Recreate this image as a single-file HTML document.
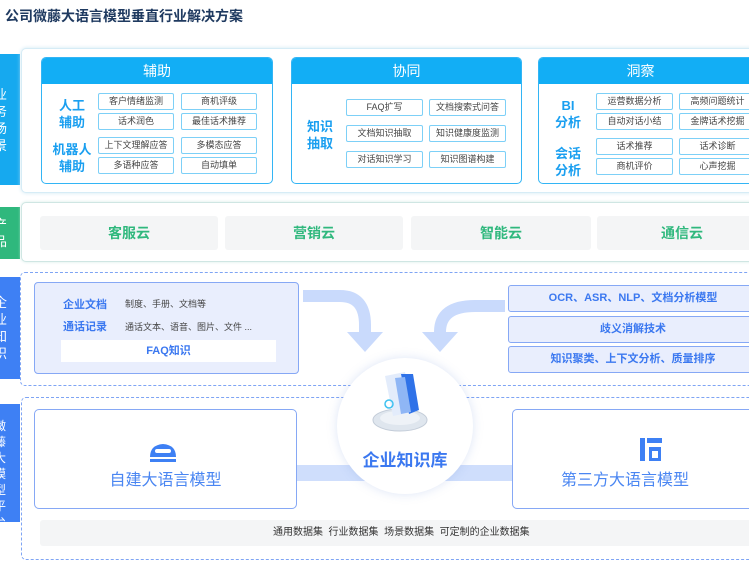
<!DOCTYPE html>
<html><head><meta charset="utf-8"><style>
*{margin:0;padding:0;box-sizing:border-box}
body{width:749px;height:584px;overflow:hidden;background:#fff;position:relative;font-family:"Liberation Sans","Noto Sans CJK SC",sans-serif}
.a{position:absolute}
.tab{position:absolute;left:0;width:20px;color:#fff;font-size:13px;line-height:17px;text-align:left;padding-left:0;overflow:hidden;display:flex;flex-direction:column;justify-content:center}
.tab span{display:block;margin-left:-6px}
.card{position:absolute;background:#fff;border-radius:5px}
.pan{position:absolute;border:1.5px solid #33b5f5;border-radius:5px;background:#fff;overflow:hidden}
.ph{height:26px;background:#12aef5;color:#fff;font-size:14px;text-align:center;line-height:26px}
.b{position:absolute;border:1.5px solid #7dd0f7;border-radius:2px;font-size:9px;color:#444;text-align:center;line-height:14px;height:17px;background:#fff}
.lb{position:absolute;color:#1a9ff0;font-weight:bold;font-size:13px;line-height:17px;text-align:center}
.prod{position:absolute;top:216px;height:34px;background:#f4f5f6;border-radius:3px;color:#2fb87d;font-weight:bold;font-size:14px;text-align:center;line-height:34px}
.rb{position:absolute;left:508px;width:250px;height:27px;background:#e9eefd;border:1.5px solid #86a8f5;border-radius:3px;color:#3b78f0;font-weight:bold;font-size:11px;text-align:center;line-height:24px}
</style></head><body>
<div class="a" style="left:5px;top:6px;font-size:14px;font-weight:bold;color:#1f3a60">公司微藤大语言模型垂直行业解决方案</div>

<!-- section 1 -->
<div class="tab" style="top:54px;height:131px;background:#16a9ef"><span>业</span><span>务</span><span>场</span><span>景</span></div>
<div class="card" style="left:21px;top:48px;width:740px;height:145px;border:1px solid #d6ecf6;box-shadow:0 0 4px #d0e8f3"></div>
<div class="pan" style="left:41px;top:57px;width:232px;height:127px"><div class="ph">辅助</div></div>
<div class="lb" style="left:56px;top:97px;width:32px">人工<br>辅助</div>
<div class="lb" style="left:50px;top:141px;width:44px">机器人<br>辅助</div>
<div class="b" style="left:98px;top:93px;width:76px">客户情绪监测</div>
<div class="b" style="left:181px;top:93px;width:76px">商机评级</div>
<div class="b" style="left:98px;top:113px;width:76px">话术润色</div>
<div class="b" style="left:181px;top:113px;width:76px">最佳话术推荐</div>
<div class="b" style="left:98px;top:137px;width:76px">上下文理解应答</div>
<div class="b" style="left:181px;top:137px;width:76px">多模态应答</div>
<div class="b" style="left:98px;top:157px;width:76px">多语种应答</div>
<div class="b" style="left:181px;top:157px;width:76px">自动填单</div>

<div class="pan" style="left:291px;top:57px;width:231px;height:127px"><div class="ph">协同</div></div>
<div class="lb" style="left:303px;top:118px;width:34px">知识<br>抽取</div>
<div class="b" style="left:346px;top:99px;width:77px">FAQ扩写</div>
<div class="b" style="left:429px;top:99px;width:77px">文档搜索式问答</div>
<div class="b" style="left:346px;top:125px;width:77px">文档知识抽取</div>
<div class="b" style="left:429px;top:125px;width:77px">知识健康度监测</div>
<div class="b" style="left:346px;top:151px;width:77px">对话知识学习</div>
<div class="b" style="left:429px;top:151px;width:77px">知识图谱构建</div>

<div class="pan" style="left:538px;top:57px;width:230px;height:127px"><div class="ph" style="padding-right:25px">洞察</div></div>
<div class="lb" style="left:551px;top:97px;width:34px">BI<br>分析</div>
<div class="lb" style="left:551px;top:145px;width:34px">会话<br>分析</div>
<div class="b" style="left:596px;top:93px;width:77px">运营数据分析</div>
<div class="b" style="left:679px;top:93px;width:77px">高频问题统计</div>
<div class="b" style="left:596px;top:113px;width:77px">自动对话小结</div>
<div class="b" style="left:679px;top:113px;width:77px">金牌话术挖掘</div>
<div class="b" style="left:596px;top:138px;width:77px">话术推荐</div>
<div class="b" style="left:679px;top:138px;width:77px">话术诊断</div>
<div class="b" style="left:596px;top:158px;width:77px">商机评价</div>
<div class="b" style="left:679px;top:158px;width:77px">心声挖掘</div>

<!-- section 2 -->
<div class="tab" style="top:207px;height:52px;background:#2fb87d"><span>产</span><span>品</span></div>
<div class="card" style="left:21px;top:202px;width:740px;height:60px;border:1px solid #cfe6e3;box-shadow:0 0 3px #d6ece8"></div>
<div class="prod" style="left:40px;width:178px">客服云</div>
<div class="prod" style="left:225px;width:178px">营销云</div>
<div class="prod" style="left:411px;width:180px">智能云</div>
<div class="prod" style="left:597px;width:170px">通信云</div>

<!-- section 3 -->
<div class="tab" style="top:277px;height:102px;background:#3e80f4"><span>企</span><span>业</span><span>知</span><span>识</span></div>
<div class="card" style="left:20px;top:272px;width:740px;height:114px;border:1.5px dashed #7ea4f4"></div>
<div class="a" style="left:34px;top:282px;width:265px;height:92px;background:#e9eefd;border:1.5px solid #86a8f5;border-radius:4px"></div>
<div class="a" style="left:63px;top:296px;font-size:11px;font-weight:bold;color:#3b78f0">企业文档</div>
<div class="a" style="left:125px;top:297px;font-size:9px;color:#444">制度、手册、文档等</div>
<div class="a" style="left:63px;top:318px;font-size:11px;font-weight:bold;color:#3b78f0">通话记录</div>
<div class="a" style="left:125px;top:320px;font-size:9px;color:#444">通话文本、语音、图片、文件 ...</div>
<div class="a" style="left:61px;top:340px;width:215px;height:22px;background:#fff;color:#3b78f0;font-size:11px;font-weight:bold;text-align:center;line-height:22px">FAQ知识</div>
<div class="rb" style="top:285px">OCR、ASR、NLP、文档分析模型</div>
<div class="rb" style="top:316px">歧义消解技术</div>
<div class="rb" style="top:346px">知识聚类、上下文分析、质量排序</div>
<svg class="a" style="left:295px;top:290px" width="220" height="75">
<path d="M8 6 H45 Q70 6 70 35 V45" fill="none" stroke="#c9dafc" stroke-width="12"/>
<polygon points="52,42 88,42 70,62" fill="#c9dafc"/>
<path d="M210 16 H180 Q145 16 145 42 V45" fill="none" stroke="#c9dafc" stroke-width="12"/>
<polygon points="127,42 163,42 145,62" fill="#c9dafc"/>
</svg>

<!-- section 4 -->
<div class="tab" style="top:404px;height:118px;background:#3e80f4;font-size:12px;line-height:16px;justify-content:flex-start;padding-top:14px"><span>微</span><span>藤</span><span>大</span><span>模</span><span>型</span><span>平</span><span>台</span></div>
<div class="card" style="left:21px;top:397px;width:740px;height:163px;border:1.5px dashed #7ea4f4"></div>
<div class="a" style="left:290px;top:465px;width:230px;height:16px;background:#cfdefc"></div>
<div class="a" style="left:34px;top:409px;width:263px;height:100px;background:#fff;border:1.5px solid #86a8f5;border-radius:5px"></div>
<div class="a" style="left:512px;top:409px;width:250px;height:100px;background:#fff;border:1.5px solid #86a8f5;border-radius:5px"></div>
<svg class="a" style="left:148px;top:441px" width="30" height="22"><path d="M2 16 Q2 4 15 3 Q28 4 28 16Z" fill="#3e80f4"/><rect x="7" y="8" width="16" height="4" rx="2" fill="#fff"/><rect x="2" y="18" width="26" height="3" fill="#3e80f4"/></svg>
<div class="a" style="left:34px;top:466px;width:263px;text-align:center;font-size:16px;color:#4a86f2">自建大语言模型</div>
<svg class="a" style="left:640px;top:438px" width="24" height="24"><rect x="0" y="0" width="5" height="23" fill="#3e80f4"/><rect x="7" y="0" width="15" height="5" fill="#3e80f4"/><path d="M9 9 L21 9 L21 23 L9 23Z" fill="#3e80f4"/><path d="M12 13 L18 13 L18 20 L12 20Z" fill="#fff"/></svg>
<div class="a" style="left:512px;top:466px;width:250px;text-align:center;font-size:16px;color:#4a86f2;padding-right:24px">第三方大语言模型</div>
<div class="a" style="left:40px;top:520px;width:720px;height:26px;background:#f4f5f6;border-radius:3px;font-size:10px;color:#333;line-height:26px;padding-left:233px">通用数据集&nbsp; 行业数据集&nbsp; 场景数据集&nbsp; 可定制的企业数据集</div>

<!-- circle -->
<div class="a" style="left:337px;top:358px;width:136px;height:136px;border-radius:50%;background:#fff;box-shadow:0 0 10px rgba(120,150,220,.25)"></div>
<svg class="a" style="left:365px;top:368px" width="70" height="70">
<ellipse cx="35" cy="52" rx="27" ry="11" fill="#dfe6ee" stroke="#c3ccd8"/>
<ellipse cx="35" cy="50" rx="20" ry="7" fill="#eef2f7"/>
<path d="M20 8 L40 4 L48 44 L28 48Z" fill="#e3ecfb"/>
<path d="M36 6 L48 6 L54 42 L44 46Z" fill="#2f72e8"/>
<path d="M30 10 L40 9 L46 44 L36 46Z" fill="#8fb6f5"/>
<circle cx="24" cy="36" r="4" fill="none" stroke="#3ec1f0" stroke-width="1.5"/>
</svg>
<div class="a" style="left:337px;top:446px;width:136px;text-align:center;font-size:17px;font-weight:bold;color:#3b78f0">企业知识库</div>
</body></html>
